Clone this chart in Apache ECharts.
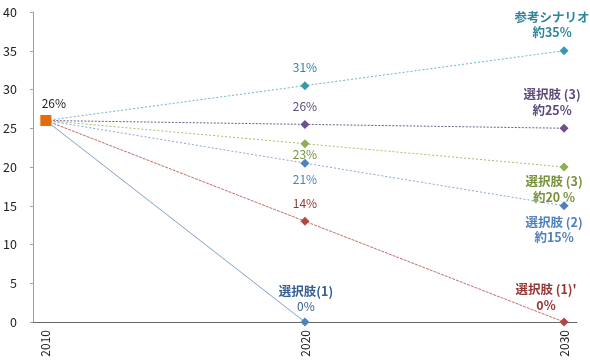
<!DOCTYPE html>
<html><head><meta charset="utf-8">
<script src="https://cdn.jsdelivr.net/npm/echarts@6/dist/echarts.min.js"></script>
<style>html,body{margin:0;padding:0;background:#fff}#c{width:590px;height:361px}</style>
</head><body><div id="c"></div>
<script>
const years = [2010, 2020, 2030];
const yTicks = [0, 5, 10, 15, 20, 25, 30, 35, 40];
const refScenario = [26, 30.5, 35];
const option3Purple = [26, 25.5, 25];
const option3Green = [26, 23, 20];
const option2 = [26, 20.5, 15];
const option1Prime = [26, 13, 0];
const option1 = [26, 0];
const baseValue = [26];

const refLabels = ['', '31%', '参考シナリオ\n約35%'];
const option3PurpleLabels = ['', '26%', '選択肢 (3)\n約25%'];
const option3GreenLabels = ['', '23%', '選択肢 (3)\n約20 %'];
const option2Labels = ['', '21%', '選択肢 (2)\n約15%'];
const option1PrimeLabels = ['', '14%', "選択肢 (1)'\n0%"];
const option1Labels = ['', '選択肢(1)\n0%'];
const baseLabels = ['26%'];

const FONT = '"Noto Sans CJK JP", "Noto Sans", sans-serif';

function mk(name, vals, labels, lineColor, markColor, textColor, lineType, pos, boldAll) {
  return {
    name: name, type: 'line', symbol: 'diamond', symbolSize: 9,
    lineStyle: {color: lineColor, width: 1, type: lineType},
    itemStyle: {color: markColor},
    z: 3,
    data: vals.map((v, i) => {
      const txt = labels[i];
      const d = {value: [years[i], v]};
      if (i === 0) { d.symbolSize = 0; d.label = {show: false}; return d; }
      const p = pos[i];
      let fmt;
      if (txt.indexOf('\n') >= 0) {
        const lines = txt.split('\n');
        fmt = lines.map((l, k) => (k === 0 || boldAll) ? '{b|' + l + '}' : '{n|' + l + '}').join('\n');
      } else {
        fmt = '{n|' + txt + '}';
      }
      d.label = {
        show: true, position: p.position, offset: p.offset || [0, 0], distance: p.distance,
        formatter: fmt, align: 'center',
        rich: {
          b: {fontFamily: FONT, fontSize: 12.5, fontWeight: 'bold', color: textColor, lineHeight: 15.5},
          n: {fontFamily: FONT, fontSize: 12, color: textColor, lineHeight: 15.5}
        }
      };
      return d;
    })
  };
}

const series = [
  mk('参考シナリオ', refScenario, refLabels, '#6fb3c8', '#3a99b0', '#31859C', [2, 2],
     [null, {position: 'top', distance: 6}, {position: 'top', offset: [-12, 0], distance: 6}], true),
  mk('選択肢(3)紫', option3Purple, option3PurpleLabels, '#6e5b8c', '#6b4f8e', '#5f4b7b', [2, 1.5],
     [null, {position: 'top', distance: 6}, {position: 'top', offset: [-12, 0], distance: 6}], true),
  mk('選択肢(3)緑', option3Green, option3GreenLabels, '#a4bf6e', '#8fae52', '#76923C', [2, 2],
     [null, {position: 'bottom', distance: -2}, {position: 'bottom', offset: [-10, 0], distance: 2}], true),
  mk('選択肢(2)', option2, option2Labels, '#8aa7cf', '#4f81bd', '#4F81BD', [2, 2],
     [null, {position: 'bottom', distance: 4}, {position: 'bottom', offset: [-10, 0], distance: 4}], true),
  mk("選択肢(1)'", option1Prime, option1PrimeLabels, '#c46b69', '#b04744', '#953735', [3, 1],
     [null, {position: 'top', distance: 6}, {position: 'top', offset: [-18, 0], distance: 5}], true),
  mk('選択肢(1)', option1, option1Labels, '#7f9fc6', '#4f81bd', '#376092', 'solid',
     [null, {position: 'top', offset: [1, 0], distance: 3}], false),
  {
    name: '2010', type: 'line', symbol: 'rect', symbolSize: 11, z: 5,
    itemStyle: {color: '#E46C0A'},
    data: baseValue.map((v, i) => ({value: [years[i], v]})),
    label: {show: true, position: 'top', distance: 6, offset: [8, 0], formatter: p => baseLabels[p.dataIndex],
            fontFamily: FONT, fontSize: 12, color: '#222'}
  }
];

const chart = echarts.init(document.getElementById('c'));
chart.setOption({
  animation: false,
  grid: {left: 31, right: 13, top: 12, bottom: 39, containLabel: false},
  xAxis: {
    type: 'value', min: 2009.5, max: 2030.5,
    splitLine: {show: false},
    axisLine: {show: true, lineStyle: {color: '#666', width: 1}},
    axisTick: {show: false},
    axisLabel: {customValues: years, rotate: 90, fontFamily: FONT, fontSize: 12, color: '#222', margin: 8,
                formatter: v => String(v)}
  },
  yAxis: {
    type: 'value', min: 0, max: 40, interval: 5,
    splitLine: {show: false},
    axisLine: {show: true, lineStyle: {color: '#a0a0a0', width: 1}},
    axisTick: {show: true, length: 3, lineStyle: {color: '#a0a0a0'}},
    axisLabel: {fontFamily: FONT, fontSize: 12.5, color: '#222', margin: 16, align: 'right',
                formatter: v => yTicks.indexOf(v) >= 0 ? String(v) : ''}
  },
  series: series
});
</script></body></html>
